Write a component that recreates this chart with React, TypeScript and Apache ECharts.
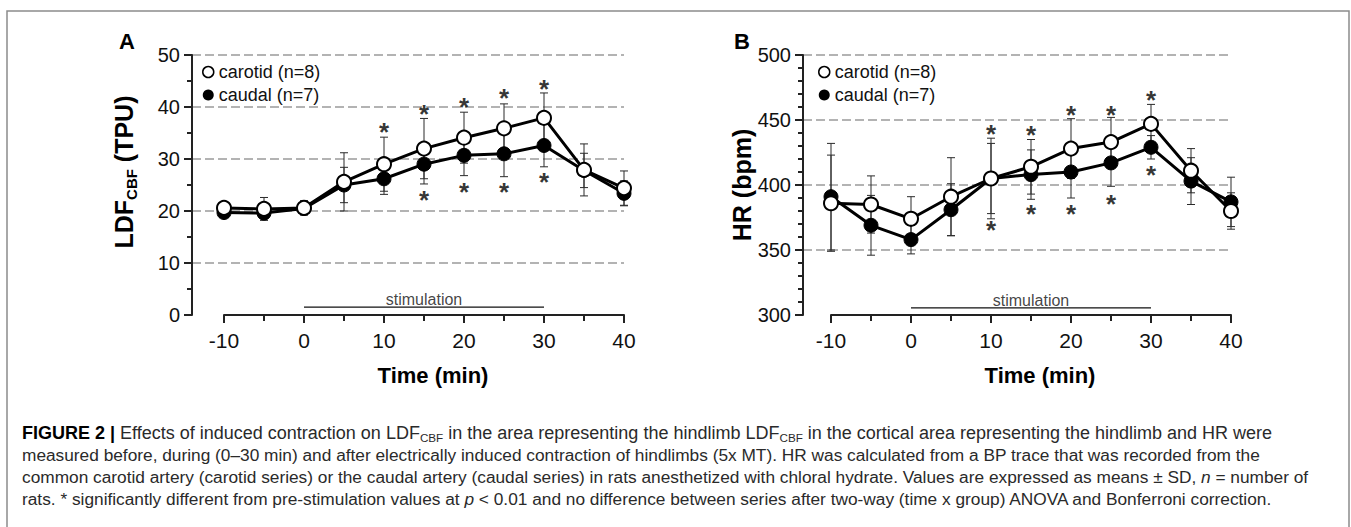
import React, { useEffect, useRef } from 'react';
import * as echarts from 'echarts';

// ---------- data ----------
const times = [-10, -5, 0, 5, 10, 15, 20, 25, 30, 35, 40];

// Panel A: LDF_CBF (TPU)
const ldfCarotid = [20.6, 20.4, 20.6, 25.6, 29.0, 32.0, 34.1, 35.9, 37.9, 27.9, 24.4];
const ldfCarotidSD = [0.8, 2.2, 1.4, 5.6, 5.2, 5.8, 4.9, 4.7, 4.8, 5.0, 3.3];
const ldfCaudal = [19.7, 19.6, 20.5, 25.0, 26.2, 29.0, 30.7, 31.0, 32.6, 27.8, 23.4];
const ldfCaudalSD = [0.8, 1.0, 1.2, 3.4, 3.0, 3.8, 3.9, 4.4, 4.1, 3.3, 2.4];
const ldfStarsTop = [[10, 36.6], [15, 40.0], [20, 41.3], [25, 43.0], [30, 44.8]];
const ldfStarsBottom = [[15, 23.4], [20, 25.0], [25, 25.0], [30, 26.9]];

// Panel B: HR (bpm)
const hrCarotid = [386, 385, 374, 391, 405, 414, 428, 433, 447, 411, 380];
const hrCarotidSD = [37, 22, 17, 30, 31, 21, 23, 19, 15, 17, 14];
const hrCaudal = [391, 369, 358, 381, 405, 408, 410, 417, 429, 403, 387];
const hrCaudalSD = [41, 23, 11, 20, 27, 19, 20, 18, 9, 18, 19];
const hrStarsTop = [[10, 445], [15, 444], [20, 459], [25, 459], [30, 471]];
const hrStarsBottom = [[10, 371], [15, 383], [20, 383], [25, 391], [30, 413]];

const stimStart = 0;
const stimEnd = 30;
const stimLabel = 'stimulation';
const carotidName = 'carotid (n=8)';
const caudalName = 'caudal (n=7)';

const captionLines = [
  '{b|FIGURE 2 |}{n| Effects of induced contraction on LDF}{s|CBF}{n| in the area representing the hindlimb LDF}{s|CBF}{n| in the cortical area representing the hindlimb and HR were}',
  '{n|measured before, during (0–30 min) and after electrically induced contraction of hindlimbs (5x MT). HR was calculated from a BP trace that was recorded from the}',
  '{n|common carotid artery (carotid series) or the caudal artery (caudal series) in rats anesthetized with chloral hydrate. Values are expressed as means ± SD, }{i|n}{n| = number of}',
  '{n|rats. * significantly different from pre-stimulation values at }{i|p}{n| < 0.01 and no difference between series after two-way (time x group) ANOVA and Bonferroni correction.}',
];
const captionSizes = [18, 17.3, 17.3, 17.3];

// ---------- helpers ----------
const FONT = '"Liberation Sans", Arial, Helvetica, sans-serif';

const pts = (vals: number[]) => times.map((t, i) => [t, vals[i]]);
const errData = (mean: number[], sd: number[]) => times.map((t, i) => [t, mean[i] - sd[i], mean[i] + sd[i]]);

const errorRender = (params: any, api: any) => {
  const x = api.value(0);
  const lo = api.value(1);
  const hi = api.value(2);
  const a = api.coord([x, hi]);
  const b = api.coord([x, lo]);
  const cw = 4;
  const st = { stroke: '#2a2a2a', lineWidth: 1 };
  return {
    type: 'group',
    children: [
      { type: 'line', shape: { x1: a[0], y1: a[1], x2: b[0], y2: b[1] }, style: st },
      { type: 'line', shape: { x1: a[0] - cw, y1: a[1], x2: a[0] + cw, y2: a[1] }, style: st },
      { type: 'line', shape: { x1: b[0] - cw, y1: b[1], x2: b[0] + cw, y2: b[1] }, style: st },
    ],
  };
};

function panelSeries(
  xi: number,
  carotid: number[], carotidSD: number[],
  caudal: number[], caudalSD: number[],
  starsTop: number[][], starsBottom: number[][],
  stimY: number, stimTextY: number,
) {
  const base = { xAxisIndex: xi, yAxisIndex: xi };
  const star = {
    type: 'scatter', ...base, symbolSize: 1, itemStyle: { color: 'rgba(0,0,0,0)' }, z: 6,
    label: { show: true, position: 'inside', formatter: '*', fontSize: 26, fontWeight: 'bold', color: '#000', fontFamily: FONT, offset: [0, 7] },
    silent: true,
  };
  return [
    { type: 'custom', ...base, renderItem: errorRender, data: errData(caudal, caudalSD), z: 1, silent: true },
    { type: 'custom', ...base, renderItem: errorRender, data: errData(carotid, carotidSD), z: 1, silent: true },
    {
      name: caudalName, type: 'line', ...base, data: pts(caudal), symbol: 'circle', symbolSize: 14, z: 3,
      itemStyle: { color: '#000', borderColor: '#000', borderWidth: 1 },
      lineStyle: { color: '#000', width: 3 },
    },
    {
      name: carotidName, type: 'line', ...base, data: pts(carotid), symbol: 'circle', symbolSize: 14, z: 4,
      itemStyle: { color: '#fff', borderColor: '#000', borderWidth: 2 },
      lineStyle: { color: '#000', width: 3 },
    },
    { ...star, data: starsTop },
    { ...star, data: starsBottom },
    {
      type: 'line', ...base, data: [[stimStart, stimY], [stimEnd, stimY]], symbol: 'none', silent: true,
      lineStyle: { color: '#111', width: 1.3 }, z: 2,
    },
    {
      type: 'scatter', ...base, data: [[(stimStart + stimEnd) / 2, stimTextY]], symbolSize: 1, silent: true,
      itemStyle: { color: 'rgba(0,0,0,0)' },
      label: { show: true, position: 'inside', formatter: stimLabel, fontSize: 16, color: '#111', fontFamily: FONT },
    },
  ];
}

const yAxisCommon = (grid: number, min: number, max: number, interval: number, minorSplit: number) => ({
  type: 'value', gridIndex: grid, min, max, interval,
  axisLine: { show: true, onZero: false, lineStyle: { color: '#222', width: 2 } },
  axisTick: { show: true, length: 8, lineStyle: { color: '#222', width: 2 } },
  minorTick: { show: true, splitNumber: minorSplit, length: 5, lineStyle: { color: '#222', width: 2 } },
  axisLabel: { fontSize: 20, color: '#111', fontFamily: FONT, margin: 12 },
  splitLine: {
    show: true,
    lineStyle: { color: ['rgba(0,0,0,0)', '#9a9a9a', '#9a9a9a', '#9a9a9a', '#9a9a9a', '#9a9a9a'], width: 1.5, type: [9, 4] },
  },
});

const xAxisVisible = (grid: number) => ({
  type: 'value', gridIndex: grid, min: -10, max: 40, interval: 10,
  axisLine: { show: true, onZero: false, lineStyle: { color: '#222', width: 2 } },
  axisTick: { show: true, length: 8, lineStyle: { color: '#222', width: 2 } },
  minorTick: { show: true, splitNumber: 2, length: 6, lineStyle: { color: '#222', width: 2 } },
  axisLabel: { fontSize: 21, color: '#111', fontFamily: FONT, margin: 15 },
  splitLine: { show: false },
});

const titleText = (x: number, y: number, text: string, size: number, rot = 0, rich?: any) => ({
  type: 'text', x, y, rotation: rot,
  style: {
    text, fontSize: size, fontWeight: 'bold', fill: '#000', fontFamily: FONT,
    align: 'center', verticalAlign: 'middle', rich,
  },
});

export default function App() {
  const ref = useRef<HTMLDivElement>(null);
  useEffect(() => {
    document.body.style.margin = '0';
    const chart = echarts.init(ref.current!, null, { renderer: 'svg' });
    const legendCommon = {
      orient: 'vertical', itemWidth: 11, itemHeight: 11, itemGap: 5, selectedMode: false,
      textStyle: { fontSize: 18, color: '#111', fontFamily: FONT },
      data: [
        { name: carotidName, icon: 'circle', itemStyle: { color: '#fff', borderColor: '#000', borderWidth: 1.5 } },
        { name: caudalName, icon: 'circle', itemStyle: { color: '#000', borderColor: '#000', borderWidth: 0 } },
      ],
    };
    const yTitleRich = {
      a: { fontSize: 25, fontWeight: 'bold', fontFamily: FONT, lineHeight: 30, fill: '#000' },
      s: { fontSize: 15, fontWeight: 'bold', fontFamily: FONT, lineHeight: 15, verticalAlign: 'bottom', fill: '#000' },
    };
    const capRich = (fs: number) => ({
      n: { fontSize: fs, fontFamily: FONT, lineHeight: 20, fill: '#2a2a2a' },
      b: { fontSize: fs, fontFamily: FONT, fontWeight: 'bold', lineHeight: 20, fill: '#000' },
      s: { fontSize: fs * 0.65, fontFamily: FONT, lineHeight: 11, verticalAlign: 'bottom', fill: '#2a2a2a' },
      i: { fontSize: fs, fontFamily: FONT, fontStyle: 'italic', lineHeight: 20, fill: '#2a2a2a' },
    });
    chart.setOption({
      animation: false,
      backgroundColor: '#fff',
      textStyle: { fontFamily: FONT },
      grid: [
        { left: 192, top: 55, width: 432, height: 260 },
        { left: 224, top: 55, width: 400, height: 260 },
        { left: 803, top: 55, width: 428, height: 260 },
        { left: 831, top: 55, width: 400, height: 260 },
      ],
      xAxis: [
        { type: 'value', gridIndex: 0, min: -14, max: 40, show: false },
        xAxisVisible(1),
        { type: 'value', gridIndex: 2, min: -13.5, max: 40, show: false },
        xAxisVisible(3),
      ],
      yAxis: [
        yAxisCommon(0, 0, 50, 10, 2),
        { type: 'value', gridIndex: 1, min: 0, max: 1, show: false },
        yAxisCommon(2, 300, 500, 50, 5),
        { type: 'value', gridIndex: 3, min: 0, max: 1, show: false },
      ],
      legend: [
        { ...legendCommon, left: 197, top: 58 },
        { ...legendCommon, left: 813, top: 58 },
      ],
      series: [
        ...panelSeries(0, ldfCarotid, ldfCarotidSD, ldfCaudal, ldfCaudalSD, ldfStarsTop, ldfStarsBottom, 1.5, 2.9),
        ...panelSeries(2, hrCarotid, hrCarotidSD, hrCaudal, hrCaudalSD, hrStarsTop, hrStarsBottom, 305.5, 311),
      ],
      graphic: [
        {
          type: 'rect', shape: { x: 7, y: 11, width: 1342, height: 540 }, silent: true,
          style: { fill: 'none', stroke: '#8c8c8c', lineWidth: 1.5 },
        },
        titleText(127, 41, 'A', 22),
        titleText(742, 41, 'B', 22),
        titleText(433, 375, 'Time (min)', 22),
        titleText(1040, 375, 'Time (min)', 22),
        titleText(124, 172, '{a|LDF}{s|CBF}{a| (TPU)}', 25, Math.PI / 2, yTitleRich),
        titleText(742, 185, 'HR (bpm)', 25, Math.PI / 2),
        ...captionLines.map((line, k) => ({
          type: 'text', x: 22, y: 433 + 22 * k,
          style: {
            text: line, rich: capRich(captionSizes[k]), fontSize: captionSizes[k], fontFamily: FONT,
            align: 'left', verticalAlign: 'middle', fill: '#2a2a2a',
          },
        })),
      ],
    });
    return () => chart.dispose();
  }, []);
  return <div ref={ref} style={{ width: 1351, height: 527 }} />;
}
